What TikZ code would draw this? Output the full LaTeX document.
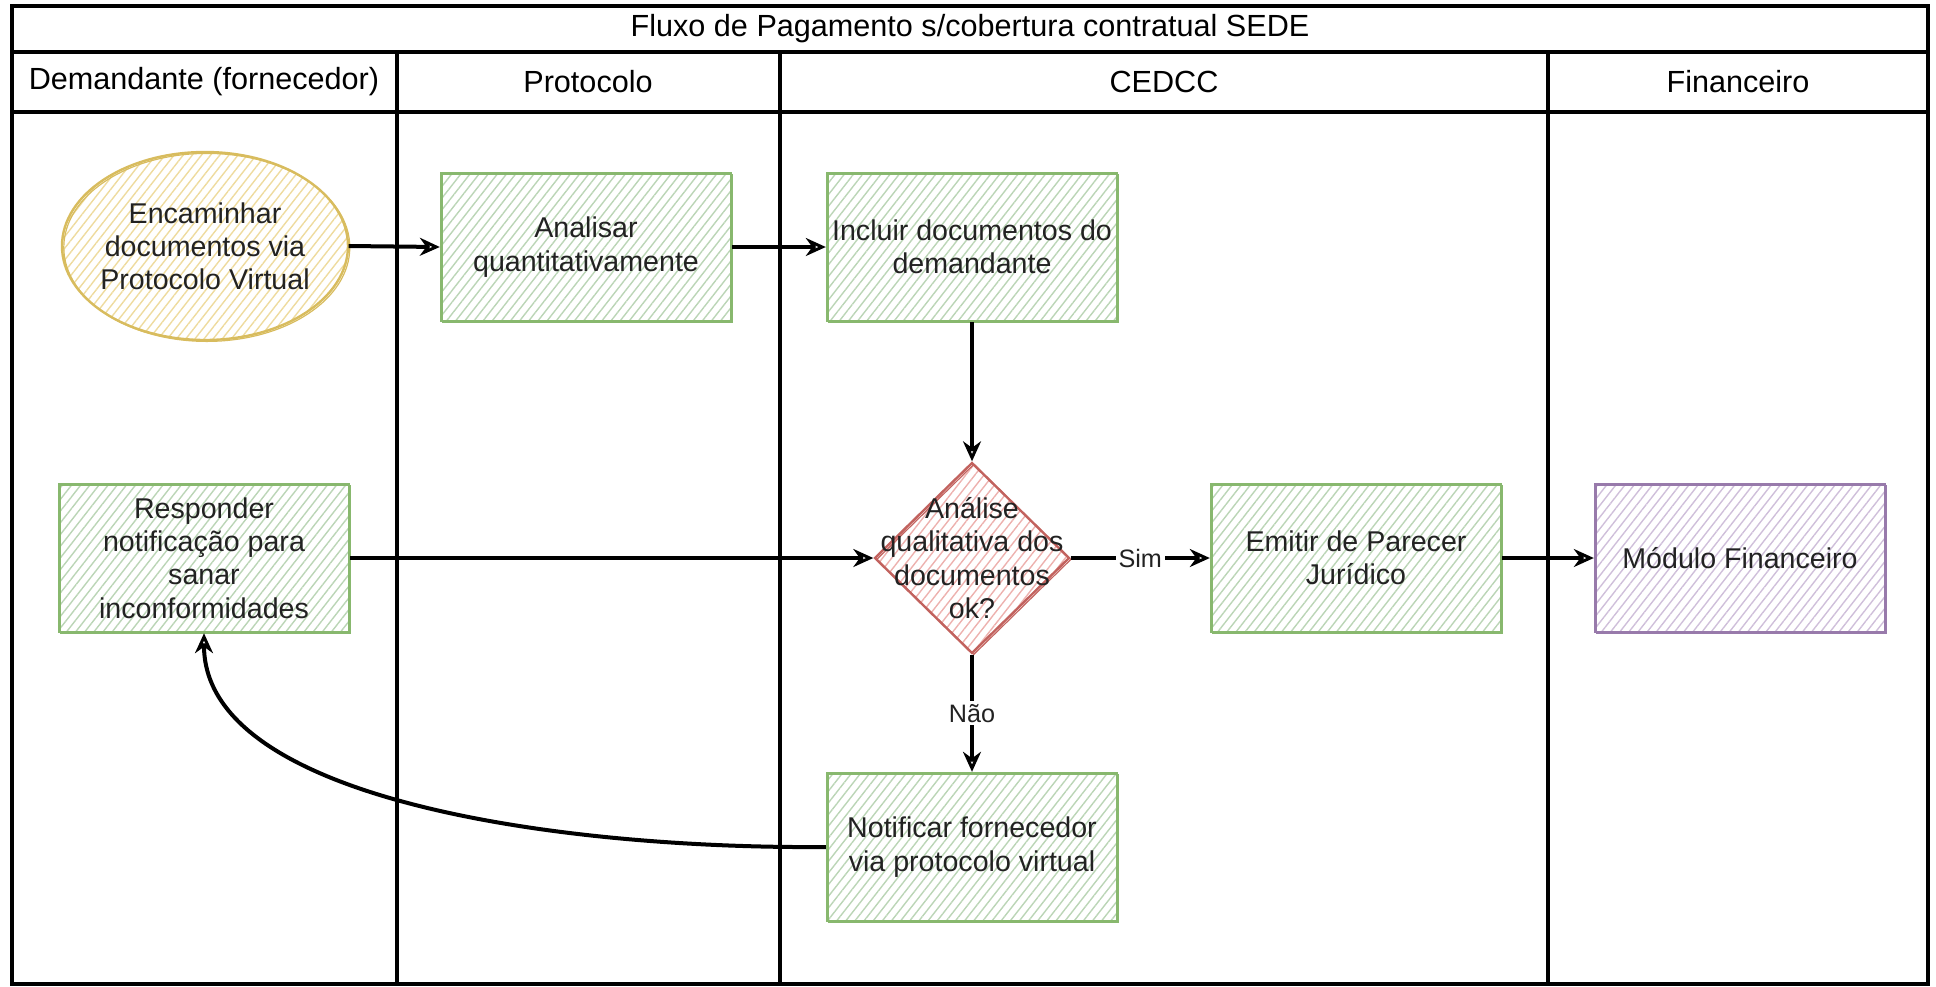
\documentclass[tikz,border=0pt]{standalone}
\usepackage{fontspec}
\setmainfont{Liberation Sans}
\usetikzlibrary{shapes.geometric, arrows.meta, patterns.meta}

% stroke and hatch colours of the flow shapes
\definecolor{gline}{HTML}{88B86E}
\definecolor{ghatch}{HTML}{BBD5B6}
\definecolor{yline}{HTML}{D8BC5E}
\definecolor{yhatch}{HTML}{EEDB9E}
\definecolor{rline}{HTML}{C2625E}
\definecolor{rhatch}{HTML}{EDB1AE}
\definecolor{pline}{HTML}{987AAB}
\definecolor{phatch}{HTML}{CFBFDA}
\definecolor{txt}{HTML}{222222}

\newcommand\flownodefont{\fontsize{14.3pt}{16.6pt}\selectfont}
\newcommand\laneheadfont{\fontsize{15.3pt}{18pt}\selectfont}
\newcommand\flowedgefont{\fontsize{12.6pt}{15pt}\selectfont}

\begin{document}
\begin{tikzpicture}[x=0.5pt, y=-0.5pt,
  lane/.style={draw=black, line width=1.8pt},
  headtext/.style={font=\laneheadfont, text=black, inner sep=0pt},
  hatched/.style={pattern={Lines[angle=52, distance=3.6pt, line width=0.7pt]}, pattern color=#1},
  sketchline/.style={postaction={draw=#1, line width=0.6pt,
      transform canvas={shift={(0.9pt,-0.7pt)}}}},
  shapetext/.style={font=\flownodefont, text=txt, align=center, inner sep=0pt},
  task/.style={rectangle, draw=gline, line width=1.2pt, hatched=ghatch, sketchline=gline,
      minimum width=145pt, minimum height=74pt, inner sep=0pt,
      font=\flownodefont, text=txt, align=center},
  finance/.style={task, draw=pline, hatched=phatch, sketchline=pline},
  startshape/.style={ellipse, draw=yline, line width=1.2pt, hatched=yhatch, sketchline=yline,
      minimum width=143pt, minimum height=94pt, inner sep=0pt},
  decision/.style={diamond, draw=rline, line width=1.2pt, hatched=rhatch, sketchline=rline,
      minimum width=97.5pt, minimum height=95.5pt, inner sep=0pt},
  conn/.style={draw=black, line width=2pt,
      -{Stealth[open, length=10pt, width=9pt, line width=1.5pt]}},
  edgelabel/.style={fill=white, font=\flowedgefont, text=txt, inner sep=1.5pt}
]
\useasboundingbox (0,0) rectangle (1936,986);

% pool frame, title row, lane header row and lane dividers
\draw[lane] (12,6) rectangle (1928,984);
\draw[lane] (12,52) -- (1928,52);
\draw[lane] (12,112) -- (1928,112);
\foreach \x in {397,780,1548} \draw[lane] (\x,52) -- (\x,984);

\node[headtext] (title) at (970,29) {Fluxo de Pagamento s/cobertura contratual SEDE};
\node[headtext] (hdem) at (204,82) {Demandante (fornecedor)};
\node[headtext] (hpro) at (588,82) {Protocolo};
\node[headtext] (hced) at (1164,82) {CEDCC};
\node[headtext] (hfin) at (1738,82) {Financeiro};

% flow shapes
\node[startshape] (enc) at (205,246) {};
\node[shapetext] (enctext) at (enc) {Encaminhar\\documentos via\\Protocolo Virtual};
\node[task] (ana) at (586,247) {Analisar\\quantitativamente};
\node[task] (inc) at (972,247) {Incluir documentos do\\demandante};
\node[decision] (dec) at (972,558) {};
\node[shapetext] (dectext) at (dec) {Análise\\qualitativa dos\\documentos\\ok?};
\node[task] (emi) at (1356,558) {Emitir de Parecer\\Jurídico};
\node[finance] (mod) at (1740,558) {Módulo Financeiro};
\node[task] (res) at (204,558) {Responder\\notificação para\\sanar\\inconformidades};
\node[task] (notif) at (972,847) {Notificar fornecedor\\via protocolo virtual};

% connectors
\draw[conn] (enc.east) -- (ana.west);
\draw[conn] (ana.east) -- (inc.west);
\draw[conn] (inc.south) -- (dec.north);
\draw[conn] (res.east) -- (dec.west);
\draw[conn] (dec.east) -- node[edgelabel] (sim) {Sim} (emi.west);
\draw[conn] (emi.east) -- (mod.west);
\draw[conn] (dec.south) -- node[edgelabel] (nao) {Não} (notif.north);
\draw[conn] (notif.west) .. controls (560,849) and (204,800) .. (res.south);
\end{tikzpicture}
\end{document}
